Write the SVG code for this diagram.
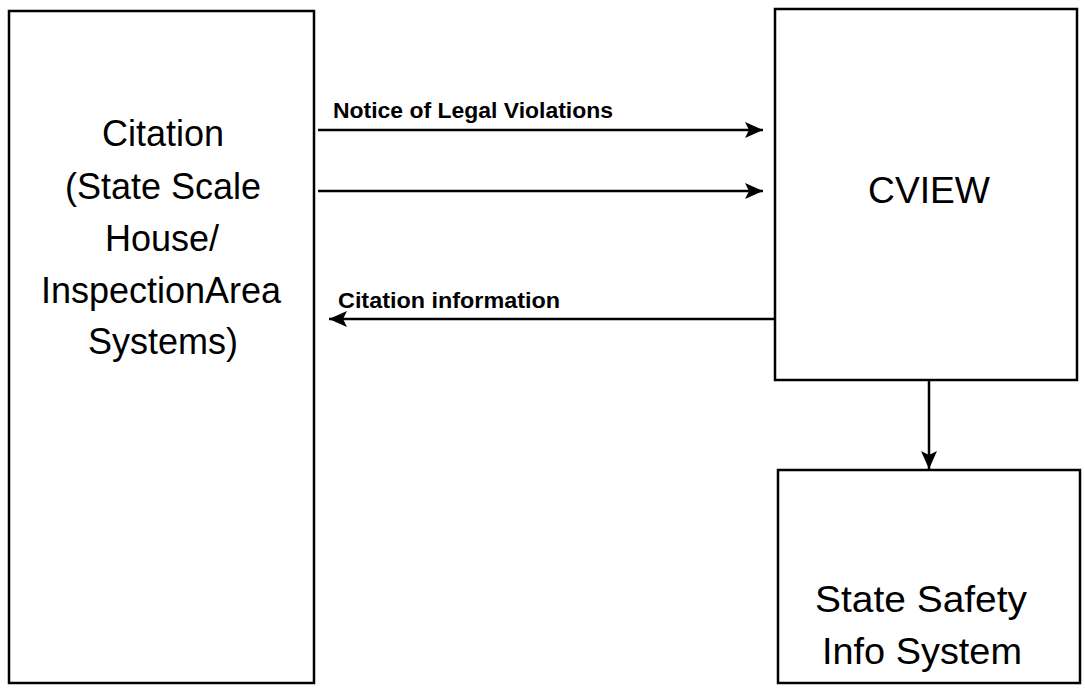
<svg xmlns="http://www.w3.org/2000/svg" width="1085" height="690" viewBox="0 0 1085 690">
<defs>
<style>
.box{fill:#fff;stroke:#000;stroke-width:2.5}
.big{font-family:"Liberation Sans",Arial,sans-serif;font-size:36px;fill:#000;text-anchor:middle}
.lbl{font-family:"Liberation Sans",Arial,sans-serif;font-size:22px;font-weight:bold;fill:#000}
.conn{stroke:#000;stroke-width:2.5;fill:none}
</style>
<marker id="ah" viewBox="0 0 18 16" refX="18" refY="8" markerWidth="18" markerHeight="16" markerUnits="userSpaceOnUse" orient="auto">
<path d="M0,0 L18,8 L0,16 L4,8 Z" fill="#000"/>
</marker>
</defs>
<rect width="1085" height="690" fill="#fff"/>
<g id="citation">
<rect class="box" x="9" y="11" width="305" height="672"/>
<text class="big" x="163" y="146">Citation</text>
<text class="big" x="163" y="199">(State Scale</text>
<text class="big" x="162" y="251">House/</text>
<text class="big" x="161" y="303">InspectionArea</text>
<text class="big" x="163" y="354">Systems)</text>
</g>
<g id="cview">
<rect class="box" x="775" y="9" width="302" height="371"/>
<text class="big" x="929" y="203" textLength="122" lengthAdjust="spacingAndGlyphs">CVIEW</text>
</g>
<g id="safety">
<rect class="box" x="778" y="470" width="302" height="213"/>
<text class="big" x="921" y="612" textLength="212" lengthAdjust="spacingAndGlyphs">State Safety</text>
<text class="big" x="922" y="664" textLength="200" lengthAdjust="spacingAndGlyphs">Info System</text>
</g>
<g id="connectors">
<line class="conn" x1="318" y1="130" x2="763" y2="130" marker-end="url(#ah)"/>
<line class="conn" x1="318" y1="191" x2="763" y2="191" marker-end="url(#ah)"/>
<line class="conn" x1="775" y1="319" x2="329" y2="319" marker-end="url(#ah)"/>
<line class="conn" x1="929" y1="380" x2="929" y2="469" marker-end="url(#ah)"/>
<text class="lbl" x="333" y="118" textLength="280" lengthAdjust="spacingAndGlyphs">Notice of Legal Violations</text>
<text class="lbl" x="338" y="308" textLength="222" lengthAdjust="spacingAndGlyphs">Citation information</text>
</g>
</svg>
